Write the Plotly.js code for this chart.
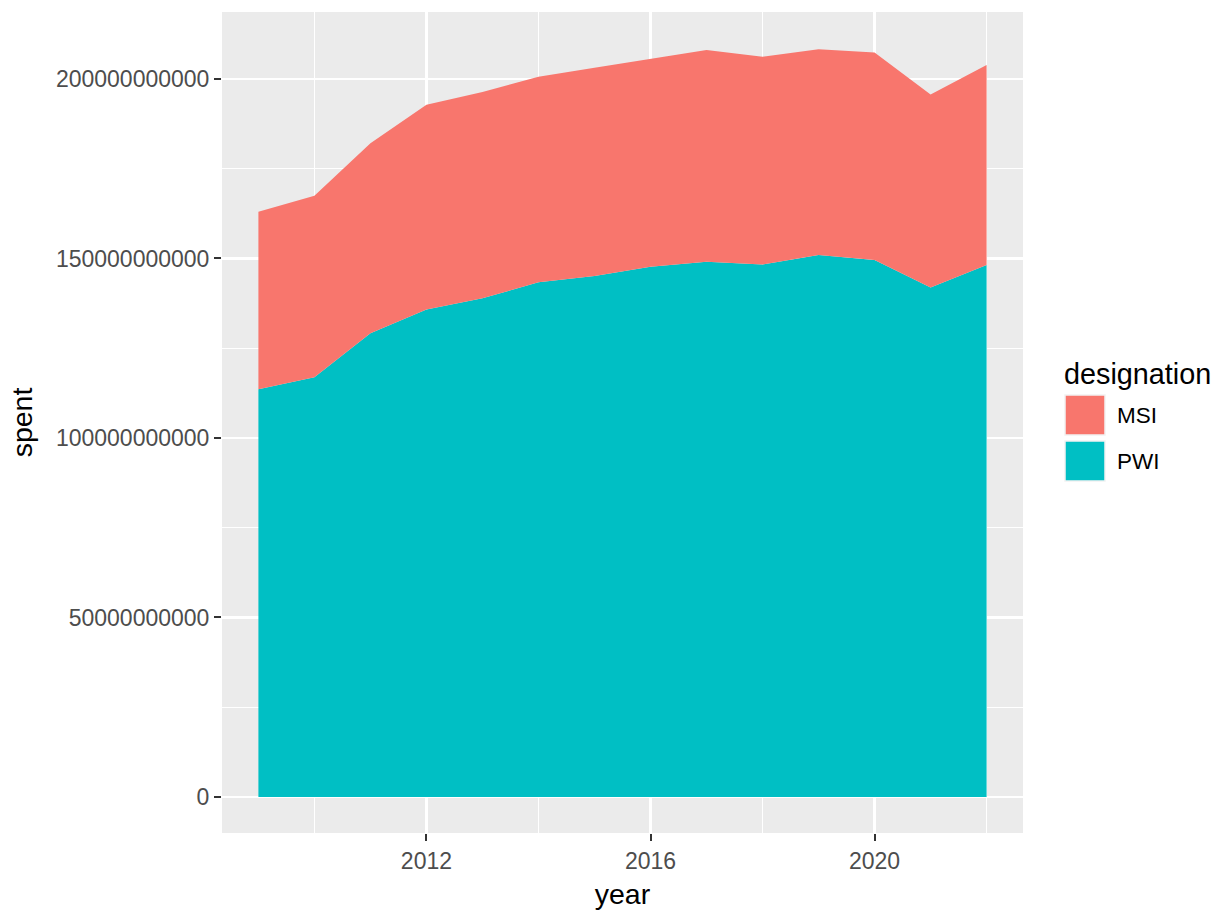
<!DOCTYPE html>
<html>
<head>
<meta charset="utf-8">
<script src="https://cdn.plot.ly/plotly-3.0.1.min.js"></script>
<style>
  html, body { margin: 0; padding: 0; background: #ffffff; }
  #chart { width: 1228px; height: 921px; }
</style>
</head>
<body>
<div id="chart"></div>
<script>
// Data, values in dollars
const years = [2009, 2010, 2011, 2012, 2013, 2014, 2015, 2016, 2017, 2018, 2019, 2020, 2021, 2022];
const pwiSpent = [113.6e9, 116.9e9, 129.2e9, 135.8e9, 138.9e9, 143.4e9, 145.1e9, 147.7e9, 149.1e9, 148.3e9, 151.0e9, 149.6e9, 141.9e9, 148.2e9];
const msiSpent = [49.4e9, 50.6e9, 52.9e9, 57.0e9, 57.5e9, 57.2e9, 58.0e9, 58.0e9, 59.0e9, 57.9e9, 57.3e9, 57.8e9, 53.8e9, 55.7e9];
const seriesNames = ["MSI", "PWI"];
const seriesColors = ["#F8766D", "#00BFC4"];
const yTickVals = [0, 50e9, 100e9, 150e9, 200e9];
const yTickText = ["0", "50000000000", "100000000000", "150000000000", "200000000000"];
const xTickVals = [2012, 2016, 2020];

const FONT = "Liberation Sans, Arial, Helvetica, sans-serif";

const traces = [
  {
    x: years, y: pwiSpent, name: seriesNames[1], type: "scatter", mode: "lines",
    stackgroup: "one", line: { width: 0, color: seriesColors[1] },
    fillcolor: seriesColors[1], showlegend: false, hoverinfo: "skip"
  },
  {
    x: years, y: msiSpent, name: seriesNames[0], type: "scatter", mode: "lines",
    stackgroup: "one", line: { width: 0, color: seriesColors[0] },
    fillcolor: seriesColors[0], showlegend: false, hoverinfo: "skip"
  }
];

// Manual ggplot-style legend (paper coords relative to plot area)
const L = 222, R = 1023, T = 12, B = 833;
const W = R - L, H = B - T;
const px = v => (v - L) / W;
const py = v => (B - v) / H;
const keyTops = [395, 441];
const shapes = [];
const annotations = [];
seriesNames.forEach((nm, i) => {
  shapes.push({
    type: "rect", xref: "paper", yref: "paper",
    x0: px(1065), x1: px(1105), y0: py(keyTops[i] + 40), y1: py(keyTops[i]),
    fillcolor: seriesColors[i], line: { color: "#F2F2F2", width: 1.5 }
  });
  annotations.push({
    xref: "paper", yref: "paper", x: px(1115), y: py(keyTops[i] + 20),
    xanchor: "left", yanchor: "middle", showarrow: false, text: nm,
    font: { family: FONT, size: 22.5, color: "#000000" }
  });
});
annotations.push({
  xref: "paper", yref: "paper", x: px(1062), y: py(374),
  xanchor: "left", yanchor: "middle", showarrow: false, text: "designation",
  font: { family: FONT, size: 28.8, color: "#000000" }
});

const layout = {
  width: 1228, height: 921,
  margin: { l: L, r: 1228 - R, t: T, b: 921 - B, pad: 0 },
  paper_bgcolor: "#FFFFFF",
  plot_bgcolor: "#EBEBEB",
  showlegend: false,
  hovermode: false,
  font: { family: FONT, color: "#4D4D4D" },
  xaxis: {
    range: [2008.35, 2022.65],
    tickvals: xTickVals, ticktext: xTickVals.map(String),
    ticks: "outside", ticklen: 7, tickwidth: 2, tickcolor: "#333333",
    tickfont: { family: FONT, size: 23, color: "#4D4D4D" },
    showgrid: true, gridcolor: "#FFFFFF", gridwidth: 2.2,
    minor: { tickvals: [2010, 2014, 2018, 2022], showgrid: true, gridcolor: "#FFFFFF", gridwidth: 1.1, ticks: "" },
    zeroline: false, showline: false,
    title: { text: "year", font: { family: FONT, size: 28.5, color: "#000000" }, standoff: 11 }
  },
  yaxis: {
    range: [-10.03e9, 218.66e9],
    tickvals: yTickVals, ticktext: yTickText,
    ticks: "outside", ticklen: 7, tickwidth: 2, tickcolor: "#333333",
    tickfont: { family: FONT, size: 23, color: "#4D4D4D" },
    showgrid: true, gridcolor: "#FFFFFF", gridwidth: 2.2,
    minor: { tickvals: [25e9, 75e9, 125e9, 175e9], showgrid: true, gridcolor: "#FFFFFF", gridwidth: 1.1, ticks: "" },
    zeroline: false, showline: false,
    title: { text: "spent", font: { family: FONT, size: 28.5, color: "#000000" }, standoff: 14 }
  },
  shapes: shapes,
  annotations: annotations
};

Plotly.newPlot("chart", traces, layout, { displayModeBar: false, staticPlot: true });
</script>
</body>
</html>
